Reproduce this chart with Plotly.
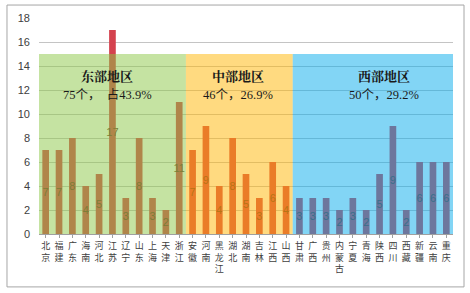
import plotly.graph_objects as go

east = ["北京", "福建", "广东", "海南", "河北", "江苏", "辽宁", "山东", "上海", "天津", "浙江"]
east_vals = [7, 7, 8, 4, 5, 17, 3, 8, 3, 2, 11]
central = ["安徽", "河南", "黑龙江", "湖北", "湖南", "吉林", "江西", "山西"]
central_vals = [7, 9, 4, 8, 5, 3, 6, 4]
west = ["甘肃", "广西", "贵州", "内蒙古", "宁夏", "青海", "陕西", "四川", "西藏", "新疆", "云南", "重庆"]
west_vals = [3, 3, 3, 2, 3, 2, 5, 9, 2, 6, 6, 6]

region_names = ["东部地区", "中部地区", "西部地区"]
region_notes = ["75个，  占43.9%", "46个，26.9%", "50个，29.2%"]
region_overlay = ["rgb(139,199,69)", "rgb(255,181,1)", "rgb(5,171,235)"]

cats = east + central + west
vals = east_vals + central_vals + west_vals
ticktext = ["<br>".join(list(c)) for c in cats]

fig = go.Figure()
fig.add_trace(go.Bar(
    x=list(range(len(cats))), y=vals,
    marker=dict(color="rgb(212,66,78)", line=dict(width=0)),
    text=[str(v) for v in vals],
    textposition="inside", insidetextanchor="middle", constraintext="none",
    textfont=dict(family="Liberation Sans, Arial", size=11, color="rgb(110,50,40)"),
    textangle=0,
    width=0.5,
    hoverinfo="skip",
))

# shaded region overlays (drawn above bars, semi-transparent)
groups = [len(east), len(central), len(west)]
start = -0.5
shapes = []
annots = []
ann_centers = [4.6, 14.4, 25.3]
for i, n in enumerate(groups):
    end = start + n
    shapes.append(dict(type="rect", xref="x", yref="y", x0=start, x1=end, y0=0, y1=15,
                       fillcolor=region_overlay[i], opacity=0.5, line=dict(width=0), layer="above"))
    annots.append(dict(x=ann_centers[i], y=13.25, xref="x", yref="y", text="<b>" + region_names[i] + "</b>",
                       showarrow=False, font=dict(family="Noto Serif CJK SC, Noto Sans CJK SC", size=13, color="#1a1a1a")))
    annots.append(dict(x=ann_centers[i], y=11.6, xref="x", yref="y", text=region_notes[i],
                       showarrow=False, font=dict(family="Liberation Serif, Noto Sans CJK SC", size=12.5, color="#1a1a1a")))
    start = end

# outer border
shapes.append(dict(type="rect", xref="paper", yref="paper", x0=-0.0773, x1=1.0266, y0=-0.245, y1=1.06,
                   line=dict(color="#A6A6A6", width=1), fillcolor="rgba(0,0,0,0)", layer="below"))

fig.update_layout(
    width=470, height=293,
    margin=dict(l=39, r=17, t=18, b=59),
    paper_bgcolor="white", plot_bgcolor="white",
    showlegend=False,
    shapes=shapes, annotations=annots,
    font=dict(family="Liberation Sans, Noto Sans CJK SC", color="#404040"),
)
fig.update_xaxes(
    tickmode="array", tickvals=list(range(len(cats))), ticktext=ticktext,
    range=[-0.5, len(cats) - 0.5],
    tickfont=dict(family="Noto Sans CJK SC", size=9, color="#404040"),
    ticks="outside", ticklen=3, tickcolor="#A0A0A0", tickson="boundaries",
    showline=True, linecolor="#A0A0A0", linewidth=1,
    showgrid=False, tickangle=0,
)
fig.update_yaxes(
    range=[0, 18], dtick=2, tick0=0,
    showgrid=True, gridcolor="#C4C4C4", gridwidth=1,
    zeroline=False, showline=False,
    tickfont=dict(family="Liberation Sans, Arial", size=11, color="#404040"),
    ticks="", ticklabelstandoff=8,
)

fig.write_html("out.html")
